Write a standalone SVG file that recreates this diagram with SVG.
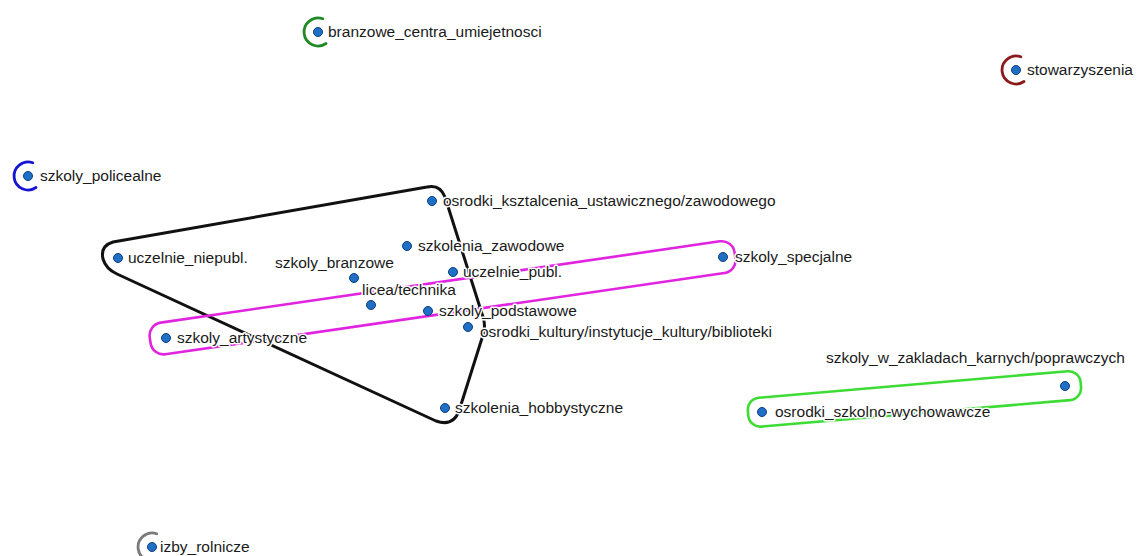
<svg xmlns="http://www.w3.org/2000/svg" width="1137" height="556" viewBox="0 0 1137 556">
<style>
.bg{fill:#ffffff}
.hull{fill:none;stroke-linejoin:round;stroke-linecap:round}
.blk{stroke:#111111;stroke-width:3}
.mag{stroke:#e024e0;stroke-width:2.6}
.grn{stroke:#3ddc34;stroke-width:2.6}
.arc{fill:none;stroke-width:2.8;stroke-linecap:round}
.dot{fill:#1f6fc6;stroke:#0e3d7a;stroke-width:1}
.lbl{font-family:"Liberation Sans",Arial,sans-serif;font-size:15.5px;fill:#1a1a1a;stroke:#ffffff;stroke-width:3px;paint-order:stroke;stroke-linejoin:round}
</style>
<rect class="bg" x="0" y="0" width="1137" height="556"/>
<g id="connectors">
  <path class="hull blk" d="M 117,274 L 436,421 Q 453,427 459,411 L 483,335 Q 486,326 483,317 L 445,197 Q 440,184 427,187 L 113,242 Q 100,246 103,259 Q 106,269 117,274 Z"/>
  <rect class="hull mag" x="-16" y="-16" width="591" height="32" rx="13" ry="13" transform="translate(166,338) rotate(-8.27)"/>
  <rect class="hull grn" x="-14" y="-14.5" width="334" height="29" rx="12" ry="12" transform="translate(762,412) rotate(-4.9)"/>
  <path class="arc" stroke="#1e8a24" d="M 322.8,18.8 A 14 14 0 1 0 326,43.5"/>
  <path class="arc" stroke="#8b1a1a" d="M 1020.8,56.8 A 14 14 0 1 0 1024,81.5"/>
  <path class="arc" stroke="#1414d2" d="M 32.8,162.8 A 14 14 0 1 0 36,187.5"/>
  <path class="arc" stroke="#7a7a7a" d="M 156.8,533.8 A 14 14 0 1 0 160,558.5"/>
</g>
<g id="node-branzowe_centra_umiejetnosci"><circle class="dot" cx="318" cy="32" r="4.5"/><text class="lbl" x="328" y="37">branzowe_centra_umiejetnosci</text></g>
<g id="node-stowarzyszenia"><circle class="dot" cx="1016" cy="70" r="4.5"/><text class="lbl" x="1027" y="75">stowarzyszenia</text></g>
<g id="node-szkoly_policealne"><circle class="dot" cx="28" cy="176" r="4.5"/><text class="lbl" x="40" y="181">szkoly_policealne</text></g>
<g id="node-izby_rolnicze"><circle class="dot" cx="152" cy="547" r="4.5"/><text class="lbl" x="160" y="552">izby_rolnicze</text></g>
<g id="node-osrodki_ksztalcenia"><circle class="dot" cx="432" cy="201" r="4.5"/><text class="lbl" x="443" y="206">osrodki_ksztalcenia_ustawicznego/zawodowego</text></g>
<g id="node-szkolenia_zawodowe"><circle class="dot" cx="407" cy="246" r="4.5"/><text class="lbl" x="418" y="251">szkolenia_zawodowe</text></g>
<g id="node-uczelnie_niepubl"><circle class="dot" cx="118" cy="258" r="4.5"/><text class="lbl" x="128" y="263">uczelnie_niepubl.</text></g>
<g id="node-szkoly_branzowe"><circle class="dot" cx="354" cy="278" r="4.5"/><text class="lbl" x="275" y="268">szkoly_branzowe</text></g>
<g id="node-uczelnie_publ"><circle class="dot" cx="453" cy="272" r="4.5"/><text class="lbl" x="463" y="277">uczelnie_publ.</text></g>
<g id="node-szkoly_specjalne"><circle class="dot" cx="723" cy="257" r="4.5"/><text class="lbl" x="735" y="262">szkoly_specjalne</text></g>
<g id="node-licea_technika"><circle class="dot" cx="371" cy="305" r="4.5"/><text class="lbl" x="362" y="295">licea/technika</text></g>
<g id="node-szkoly_podstawowe"><circle class="dot" cx="428" cy="311" r="4.5"/><text class="lbl" x="439" y="316">szkoly_podstawowe</text></g>
<g id="node-osrodki_kultury"><circle class="dot" cx="468" cy="327" r="4.5"/><text class="lbl" x="480" y="337">osrodki_kultury/instytucje_kultury/biblioteki</text></g>
<g id="node-szkoly_artystyczne"><circle class="dot" cx="166" cy="338" r="4.5"/><text class="lbl" x="177" y="343">szkoly_artystyczne</text></g>
<g id="node-szkolenia_hobbystyczne"><circle class="dot" cx="445" cy="408" r="4.5"/><text class="lbl" x="455" y="413">szkolenia_hobbystyczne</text></g>
<g id="node-szkoly_w_zakladach"><circle class="dot" cx="1065" cy="386" r="4.5"/><text class="lbl" x="826" y="363">szkoly_w_zakladach_karnych/poprawczych</text></g>
<g id="node-osrodki_szkolno_wychowawcze"><circle class="dot" cx="762" cy="412" r="4.5"/><text class="lbl" x="775" y="417">osrodki_szkolno-wychowawcze</text></g>
</svg>
